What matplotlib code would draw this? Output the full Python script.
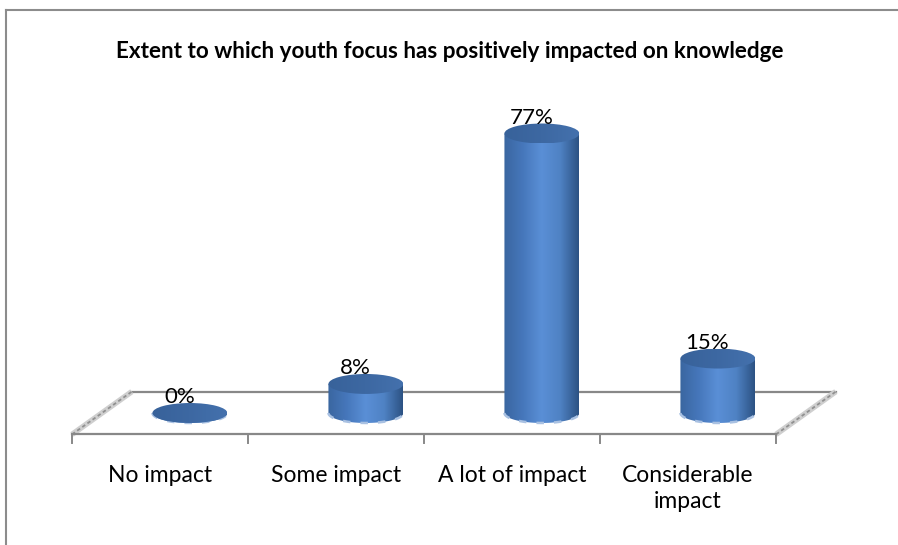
import numpy as np
import matplotlib
matplotlib.use("Agg")
import matplotlib.pyplot as plt
from matplotlib.patches import Ellipse, Polygon
from matplotlib.lines import Line2D
from matplotlib.colors import LinearSegmentedColormap

categories = ["No impact", "Some impact", "A lot of impact", "Considerable\nimpact"]
values = [0, 8, 77, 15]
value_labels = ["0%", "8%", "77%", "15%"]
title = "Extent to which youth focus has positively impacted on knowledge"

plt.rcParams["font.family"] = ["Lato", "DejaVu Sans"]

W, H = 898, 545
fig = plt.figure(figsize=(W / 100, H / 100), dpi=100)
ax = fig.add_axes([0, 0, 1, 1])
ax.axis("off")

# pixel layout: category i centred at 160 + 176*i, value 0 at y=413, 3.63 px per %
ax.set_xlim((0 - 160) / 176, (W - 160) / 176)
ax.set_ylim((413 - H) / 3.63, 413 / 3.63)

depth_x = 0.34     # 3D offset of the floor in category units
depth_y = 11.8     # and in % units
half_w = 0.213     # cylinder radius (x)
half_h = 2.75      # cylinder radius (y)

# outer chart frame (only top and left edges fall inside the picture)
fy = 1 - 10 / H
fx = 6 / W
fig.lines.append(Line2D([fx, 1.0], [fy, fy], transform=fig.transFigure,
                        color="#8c8c8c", lw=1.5))
fig.lines.append(Line2D([fx, fx], [0.0, fy], transform=fig.transFigure,
                        color="#8c8c8c", lw=1.5))

fig.text(450 / W, 1 - 51 / H, title, ha="center", va="center",
         fontsize=16.2, fontweight="bold", color="black")

# floor
n = len(categories)
front_y = -depth_y / 2
back_y = depth_y / 2
x0, x1 = -0.5, n - 0.5
ax.plot([x0 + depth_x, x1 + depth_x], [back_y, back_y], color="#888888", lw=1.6, zorder=1)
for xs in (x0, x1):
    ax.plot([xs, xs + depth_x], [front_y, back_y], color="#cfcfcf", lw=4, zorder=1,
            solid_capstyle="butt")
    ax.plot([xs, xs + depth_x], [front_y, back_y], color="#909090", lw=1.3, zorder=1,
            dashes=(2, 1.5))
ax.plot([x0, x1], [front_y, front_y], color="#888888", lw=1.6, zorder=5)
for tk in np.arange(x0, x1 + 0.01, 1.0):
    ax.plot([tk, tk], [front_y, front_y - 2.4], color="#888888", lw=1.4, zorder=5)

body_cmap = LinearSegmentedColormap.from_list(
    "body", ["#3a66a0", "#4677bb", "#5a8fd6", "#4f82c4", "#2c5283"])
top_cmap = LinearSegmentedColormap.from_list(
    "top", ["#38629a", "#3d68a2", "#4471ad"])
grad = np.linspace(0, 1, 256).reshape(1, -1)
t = np.linspace(np.pi, 2 * np.pi, 60)

for i, (v, lab) in enumerate(zip(values, value_labels)):
    cx = i + depth_x / 2
    # body: rectangle plus front half of the base ellipse
    xs = list(cx + half_w * np.cos(t)) + [cx + half_w, cx - half_w]
    ys = list(half_h * np.sin(t)) + [v, v]
    body = Polygon(np.column_stack([xs, ys]), closed=True, facecolor="none",
                   edgecolor="none", zorder=2)
    ax.add_patch(body)
    im = ax.imshow(grad, cmap=body_cmap, aspect="auto", zorder=2,
                   extent=(cx - half_w, cx + half_w, -half_h, v))
    im.set_clip_path(body)
    # light rim along the base
    ax.plot(cx + half_w * np.cos(t), half_h * np.sin(t), color="#a9c1e2", lw=1.8,
            dashes=(3, 4), zorder=3)
    # top cap
    cap = Ellipse((cx, v), 2 * half_w, 2 * half_h, facecolor="none",
                  edgecolor="none", zorder=4)
    ax.add_patch(cap)
    im2 = ax.imshow(grad, cmap=top_cmap, aspect="auto", zorder=4,
                    extent=(cx - half_w, cx + half_w, v - half_h, v + half_h))
    im2.set_clip_path(cap)
    ax.text(i + 0.11, v + 4.4, lab, ha="center", va="center", fontsize=16,
            color="black", zorder=6)

for i, cat in enumerate(categories):
    ax.text(i, -14.4, cat, ha="center", va="top", fontsize=16.5,
            linespacing=1.25, color="black")

fig.savefig("out.png", dpi=100, facecolor="white")
